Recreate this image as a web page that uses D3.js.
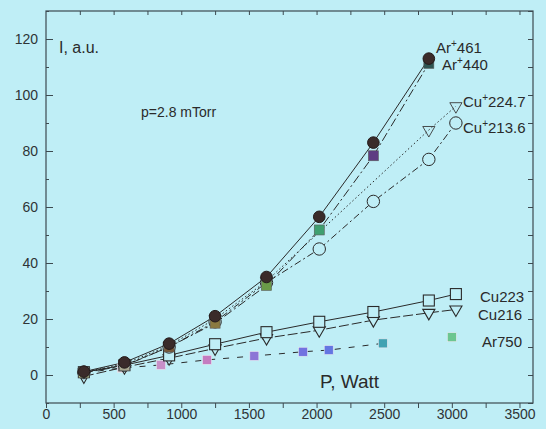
<!DOCTYPE html>
<html>
<head>
<meta charset="utf-8">
<script src="https://cdn.jsdelivr.net/npm/d3@7"></script>
<style>
  body { margin: 0; background: #bfeef6; }
  svg { display: block; font-family: 'Liberation Sans', Arial, sans-serif; }
  .axis text { fill: #2e3436; font-size: 14px; }
  .axis line { stroke: #3d4a50; stroke-width: 1; }
  .axis path { display: none; }
  .lbl { fill: #2a2a2a; font-size: 15px; }
</style>
</head>
<body>
<svg width="546" height="429"></svg>
<script>
// power values (W)
const xMain = [280, 580, 910, 1250, 1630, 2020, 2420, 2830];
const xCu = [280, 580, 910, 1250, 1630, 2020, 2420, 2830, 3030];
const xCu2247 = [280, 580, 910, 1250, 1630, 2830, 3030];
const xAr750 = [280, 560, 850, 1190, 1540, 1900, 2090, 2490, 3000];

// intensities (a.u.)
const ar461 = [1.2, 4.5, 11.2, 21, 35, 56.5, 83, 113];
const ar440 = [0.8, 3.3, 10, 18.5, 32, 51.8, 78.3, 111.3];
const cu2136 = [1, 3.5, 10, 19, 33, 45, 62, 77, 90];
const cu2247 = [1, 4, 10.5, 20, 33.5, 87.5, 96];
const cu223 = [1, 3.5, 7, 11, 15.3, 19, 22.5, 26.6, 28.9];
const cu216 = [-0.5, 2.8, 6, 9.5, 13.2, 16, 19.6, 22.2, 23.4];
const ar750 = [0.8, 2.5, 3.6, 5.4, 6.8, 8.3, 8.9, 11.3, 13.5];

const ar440Colors = ['#c8d890', '#a8a890', '#7a5a3a', '#8a7a40', '#6a9a48', '#3fa070', '#5e3c82', '#2f5552'];
const ar750Colors = ['#d8e0a0', '#d0c8d0', '#c890c8', '#c47cc0', '#8c74d6', '#7272e0', '#6476e2', '#40a2b2', '#6cc690'];

const xTicks = [0, 500, 1000, 1500, 2000, 2500, 3000, 3500];
const yTicks = [0, 20, 40, 60, 80, 100, 120];

const svg = d3.select('svg');
const box = { left: 46, right: 533, top: 11, bottom: 403 };

const x = d3.scaleLinear().domain([0, 3600]).range([box.left, box.right]);
const y = d3.scaleLinear().domain([-10, 130]).range([box.bottom, box.top]);

svg.append('rect').attr('width', 546).attr('height', 429).attr('fill', '#bfeef6');

// axes
svg.append('g').attr('class', 'axis')
  .attr('transform', 'translate(0,' + box.bottom + ')')
  .call(d3.axisBottom(x).tickValues(d3.range(0, 3501, 250)).tickSize(5).tickPadding(1)
    .tickFormat(function (d) { return xTicks.indexOf(d) >= 0 ? d : ''; }));

svg.append('g').attr('class', 'axis')
  .attr('transform', 'translate(0,' + box.top + ')')
  .call(d3.axisTop(x).tickValues(d3.range(250, 3501, 250)).tickSize(-4).tickFormat(''));

svg.append('g').attr('class', 'axis')
  .attr('transform', 'translate(' + box.left + ',0)')
  .call(d3.axisLeft(y).tickValues(yTicks).tickSize(-7).tickPadding(8));

svg.append('g').attr('class', 'axis')
  .attr('transform', 'translate(' + box.left + ',0)')
  .call(d3.axisLeft(y).tickValues(d3.range(-10, 131, 20)).tickSize(-3).tickFormat(''));

svg.append('g').attr('class', 'axis')
  .attr('transform', 'translate(' + box.right + ',0)')
  .call(d3.axisRight(y).tickValues(d3.range(-10, 131, 10)).tickSize(-5).tickFormat(''));

svg.append('rect')
  .attr('x', box.left).attr('y', box.top)
  .attr('width', box.right - box.left).attr('height', box.bottom - box.top)
  .attr('fill', 'none').attr('stroke', '#3d4a50').attr('stroke-width', 1.2);

// lines
function pts(xs, ys) {
  return xs.map(function (d, i) { return [d, ys[i]]; });
}
const line = d3.line().x(function (d) { return x(d[0]); }).y(function (d) { return y(d[1]); });

function drawLine(data, dash) {
  svg.append('path')
    .attr('d', line(data))
    .attr('fill', 'none')
    .attr('stroke', '#2a2a2a')
    .attr('stroke-width', 1)
    .attr('stroke-dasharray', dash);
}

drawLine(pts(xAr750, ar750).slice(0, 8), '6,8');
drawLine(pts(xCu, cu216), '10,3');
drawLine(pts(xCu, cu223), null);
drawLine(pts(xCu2247, cu2247), '1.5,2.5');
drawLine(pts(xCu, cu2136), '7,3,2,3');
drawLine(pts(xMain, ar440), '9,3,2,3');
drawLine(pts(xMain, ar461), null);

// markers
const tri = d3.symbol().type(d3.symbolTriangle).size(64);

svg.append('g').selectAll('rect')
  .data(pts(xAr750, ar750))
  .enter().append('rect')
  .attr('x', function (d) { return x(d[0]) - 4.5; })
  .attr('y', function (d) { return y(d[1]) - 4.5; })
  .attr('width', 9).attr('height', 9)
  .attr('fill', function (d, i) { return ar750Colors[i]; })
  .attr('stroke', '#e8e8f0').attr('stroke-width', 0.6);

svg.append('g').selectAll('path')
  .data(pts(xCu, cu216))
  .enter().append('path')
  .attr('d', tri)
  .attr('transform', function (d) { return 'translate(' + x(d[0]) + ',' + y(d[1]) + ') rotate(180)'; })
  .attr('fill', '#bfeef6').attr('stroke', '#2a2a2a').attr('stroke-width', 1.1);

svg.append('g').selectAll('rect')
  .data(pts(xCu, cu223))
  .enter().append('rect')
  .attr('x', function (d) { return x(d[0]) - 5.5; })
  .attr('y', function (d) { return y(d[1]) - 5.5; })
  .attr('width', 11).attr('height', 11)
  .attr('fill', '#bfeef6').attr('stroke', '#2a2a2a').attr('stroke-width', 1.1);

svg.append('g').selectAll('path')
  .data(pts(xCu2247, cu2247))
  .enter().append('path')
  .attr('d', tri)
  .attr('transform', function (d) { return 'translate(' + x(d[0]) + ',' + y(d[1]) + ') rotate(180)'; })
  .attr('fill', 'none').attr('stroke', '#3a3a3a').attr('stroke-width', 0.9);

svg.append('g').selectAll('circle')
  .data(pts(xCu, cu2136))
  .enter().append('circle')
  .attr('cx', function (d) { return x(d[0]); })
  .attr('cy', function (d) { return y(d[1]); })
  .attr('r', 6.2)
  .attr('fill', '#bfeef6').attr('stroke', '#2a2a2a').attr('stroke-width', 1);

svg.append('g').selectAll('rect')
  .data(pts(xMain, ar440))
  .enter().append('rect')
  .attr('x', function (d) { return x(d[0]) - 5; })
  .attr('y', function (d) { return y(d[1]) - 5; })
  .attr('width', 10).attr('height', 10)
  .attr('fill', function (d, i) { return ar440Colors[i]; })
  .attr('stroke', '#5a5a5a').attr('stroke-width', 0.6);

svg.append('g').selectAll('circle')
  .data(pts(xMain, ar461))
  .enter().append('circle')
  .attr('cx', function (d) { return x(d[0]); })
  .attr('cy', function (d) { return y(d[1]); })
  .attr('r', 5.8)
  .attr('fill', '#3a2b2a').attr('stroke', '#231a1a').attr('stroke-width', 1);

// texts
function label(tx, ty, name, sup, rest, size) {
  const t = svg.append('text').attr('class', 'lbl').attr('x', tx).attr('y', ty)
    .style('font-size', (size || 15) + 'px').text(name);
  if (sup) {
    t.append('tspan').attr('dy', -6).style('font-size', '10px').text(sup);
    t.append('tspan').attr('dy', 6).text(rest);
  }
}

label(436, 53, 'Ar', '+', '461');
label(442, 70, 'Ar', '+', '440');
label(463, 107, 'Cu', '+', '224.7');
label(463, 133, 'Cu', '+', '213.6');
label(480, 302, 'Cu223');
label(478, 320, 'Cu216');
label(482, 347, 'Ar750');
label(59, 53, 'I, a.u.', null, null, 16);
label(141, 117, 'p=2.8 mTorr', null, null, 14);
svg.append('text').attr('class', 'lbl').attr('x', 320).attr('y', 388)
  .style('font-size', '19px').text('P, Watt');
</script>
</body>
</html>
